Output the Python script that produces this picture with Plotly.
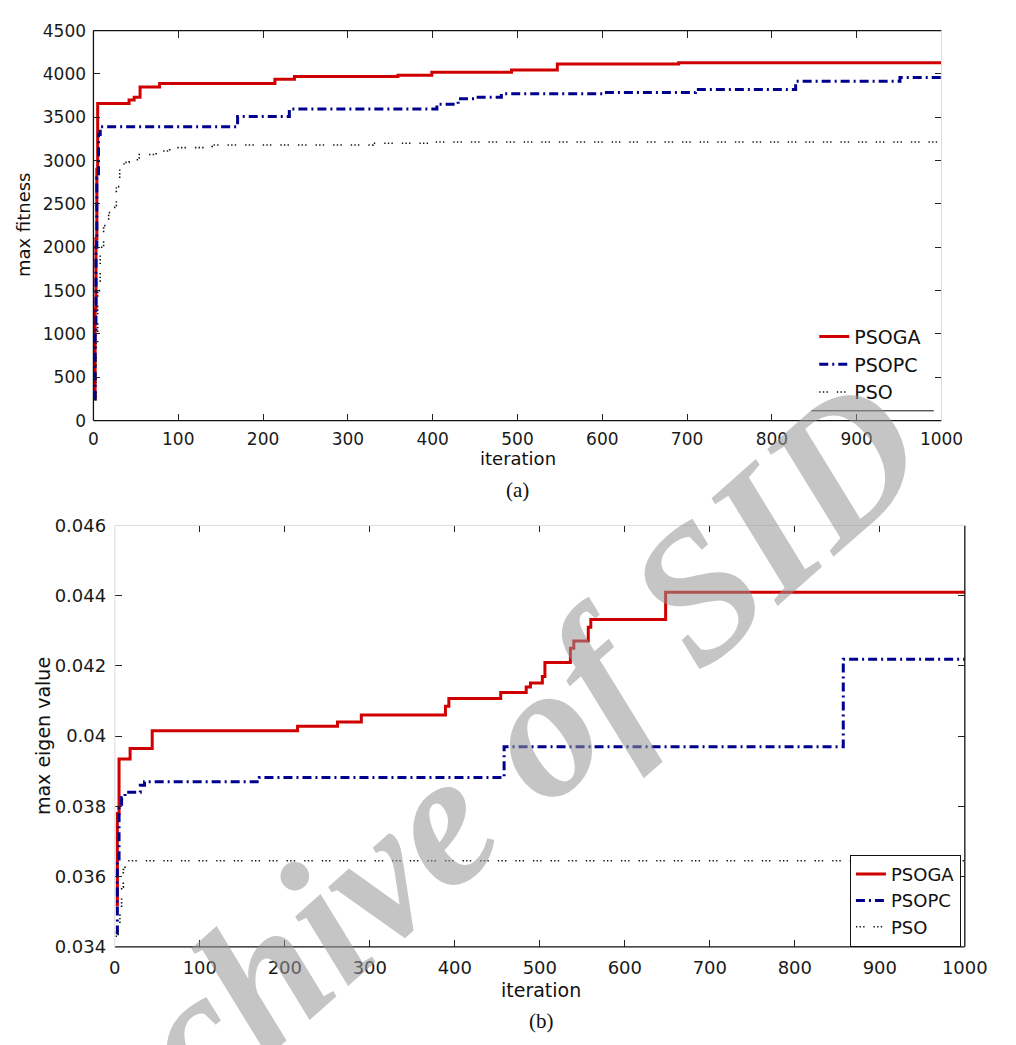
import plotly.graph_objects as go

# ---------------- data ----------------
# (a) max fitness vs iteration (step curves: value holds from the given iteration on)
fit_ga_iter = [1, 2, 3, 4, 5, 42, 48, 55, 78, 214, 237, 359, 399, 493, 547, 690, 1000]
fit_ga_val = [250, 1300, 2100, 2900, 3660, 3700, 3730, 3850, 3890, 3940, 3970, 3985, 4020, 4045, 4115, 4130, 4130]

fit_pc_iter = [1, 2, 3, 4, 6, 8, 170, 231, 405, 430, 450, 481, 603, 710, 828, 951, 1000]
fit_pc_val = [250, 1000, 2000, 2800, 3300, 3390, 3510, 3595, 3650, 3715, 3730, 3770, 3785, 3820, 3915, 3960, 3960]

fit_pso_iter = [1, 3, 5, 8, 12, 18, 24, 27, 31, 36, 42, 54, 74, 90, 140, 330, 400, 1000]
fit_pso_val = [250, 900, 1500, 2000, 2250, 2400, 2460, 2700, 2920, 2980, 3010, 3070, 3110, 3150, 3180, 3200, 3215, 3215]

# (b) max eigen value vs iteration
eig_ga_iter = [1, 3, 5, 18, 44, 215, 262, 290, 389, 393, 454, 484, 489, 503, 506, 536, 540, 557, 560, 648, 1000]
eig_ga_val = [0.0352, 0.0378, 0.03935, 0.03965, 0.04015, 0.04028, 0.0404, 0.0406, 0.04085, 0.04107, 0.04124,
              0.0414, 0.04151, 0.0417, 0.0421, 0.0425, 0.04271, 0.0431, 0.04332, 0.0441, 0.0441]

eig_pc_iter = [1, 3, 5, 8, 12, 30, 35, 170, 458, 857, 1000]
eig_pc_val = [0.0344, 0.0365, 0.0380, 0.03825, 0.0384, 0.0386, 0.0387, 0.03882, 0.0397, 0.04219, 0.04219]

eig_pso_iter = [1, 4, 6, 8, 10, 12, 1000]
eig_pso_val = [0.0343, 0.0346, 0.0351, 0.0357, 0.0362, 0.03645, 0.03645]

series_names = ["PSOGA", "PSOPC", "PSO"]
fit_ticks = [0, 500, 1000, 1500, 2000, 2500, 3000, 3500, 4000, 4500]
eig_ticks = [0.034, 0.036, 0.038, 0.040, 0.042, 0.044, 0.046]
eig_ticktext = ["0.034", "0.036", "0.038", "0.04", "0.042", "0.044", "0.046"]
iter_ticks = [0, 100, 200, 300, 400, 500, 600, 700, 800, 900, 1000]

# ---------------- styling ----------------
W, H = 1016, 1045
def px(x):
    return x / W
def py(y):
    return 1 - y / H

RED = "#d10000"
BLUE = "#00008f"
BLACK = "#111111"
styles = [
    dict(color=RED, width=3),
    dict(color=BLUE, width=3, dash="9px,4px,2px,4px"),
    dict(color=BLACK, width=1.6, dash="1.4px,2.2px,1.4px,2.2px,1.4px,9px"),
]
SANS = "DejaVu Sans, Verdana, sans-serif"
SERIF = "Liberation Serif, Times New Roman, serif"

fig = go.Figure()

for name, xs, ys, st in zip(series_names,
                            [fit_ga_iter, fit_pc_iter, fit_pso_iter],
                            [fit_ga_val, fit_pc_val, fit_pso_val], styles):
    fig.add_trace(go.Scatter(x=xs, y=ys, mode="lines", line=dict(shape="hv", **st),
                             name=name, xaxis="x", yaxis="y", legend="legend"))

for name, xs, ys, st in zip(series_names,
                            [eig_ga_iter, eig_pc_iter, eig_pso_iter],
                            [eig_ga_val, eig_pc_val, eig_pso_val], styles):
    fig.add_trace(go.Scatter(x=xs, y=ys, mode="lines", line=dict(shape="hv", **st),
                             name=name, xaxis="x2", yaxis="y2", legend="legend2"))

def axis(size, standoff, **kw):
    return dict(showgrid=False, zeroline=False, ticks="inside", ticklen=7, tickwidth=1,
                tickcolor="#222", showline=True, linecolor="rgba(0,0,0,0)", mirror="ticks",
                tickfont=dict(family=SANS, size=size, color="#1a1a1a"),
                ticklabelstandoff=standoff, **kw)

fig.update_layout(
    width=W, height=H, margin=dict(l=0, r=0, t=0, b=0),
    paper_bgcolor="white", plot_bgcolor="rgba(0,0,0,0)",
    xaxis=axis(17, 3, domain=[px(90), px(963)], range=[0, 1000], anchor="y", tickvals=iter_ticks),
    yaxis=axis(17, 3, domain=[py(418), py(20)], range=[0, 4500], anchor="x", tickvals=fit_ticks),
    xaxis2=axis(18, 5, domain=[px(112), px(987)], range=[0, 1000], anchor="y2", tickvals=iter_ticks),
    yaxis2=axis(18, 4, domain=[py(955), py(525)], range=[0.034, 0.046], anchor="x2",
                tickvals=eig_ticks, ticktext=eig_ticktext),
    legend=dict(x=px(832), y=py(313), xanchor="left", yanchor="top",
                bgcolor="rgba(255,255,255,0)", borderwidth=0,
                font=dict(family=SANS, size=19, color="#111"), tracegroupgap=0),
    legend2=dict(x=px(983), y=py(955), xanchor="right", yanchor="bottom",
                 bgcolor="white", bordercolor="#111", borderwidth=1,
                 font=dict(family=SANS, size=18, color="#111"), tracegroupgap=0),
)

# axis spines
line = dict(color="#111", width=1.3)
faint = dict(color="#dcdcdc", width=1)
shapes = [
    # (a): bottom, left, top drawn; right edge barely visible
    dict(type="line", xref="paper", yref="paper", x0=px(90), x1=px(963), y0=py(418), y1=py(418), line=line),
    dict(type="line", xref="paper", yref="paper", x0=px(90), x1=px(90), y0=py(418), y1=py(20), line=line),
    dict(type="line", xref="paper", yref="paper", x0=px(90), x1=px(963), y0=py(20), y1=py(20), line=line),
    dict(type="line", xref="paper", yref="paper", x0=px(963), x1=px(963), y0=py(418), y1=py(20), line=faint),
    # rule under the legend of (a)
    dict(type="line", xref="paper", yref="paper", x0=px(829), x1=px(955), y0=py(408), y1=py(408),
         line=dict(color="#111", width=1)),
    # (b): bottom, left, right drawn; top edge barely visible
    dict(type="line", xref="paper", yref="paper", x0=px(112), x1=px(987), y0=py(955), y1=py(955), line=line),
    dict(type="line", xref="paper", yref="paper", x0=px(112), x1=px(112), y0=py(955), y1=py(525), line=faint),
    dict(type="line", xref="paper", yref="paper", x0=px(987), x1=px(987), y0=py(955), y1=py(525), line=line),
    dict(type="line", xref="paper", yref="paper", x0=px(112), x1=px(987), y0=py(525), y1=py(525), line=faint),
]
fig.update_layout(shapes=shapes)

def label(text, x, y, size=18, family=SANS, angle=0):
    fig.add_annotation(text=text, x=px(x), y=py(y), xref="paper", yref="paper",
                       showarrow=False, textangle=angle, xanchor="center", yanchor="middle",
                       font=dict(family=family, size=size, color="#111"))

label("max fitness", 18, 218, size=18, angle=-90)
label("iteration", 527, 457, size=18)
label("(a)", 527, 489, size=21, family=SERIF)
label("max eigen value", 38, 740, size=19, angle=-90)
label("iteration", 551, 999, size=19)
label("(b)", 551, 1031, size=21, family=SERIF)

# repository watermark across the page
fig.add_annotation(text="<b><i>Archive of SID</i></b>", x=px(455), y=py(817), xref="paper", yref="paper",
                   showarrow=False, textangle=-41.5, xanchor="center", yanchor="middle",
                   font=dict(family=SERIF, size=190, color="rgba(150,150,150,0.55)"))

fig.write_html("out.html")
